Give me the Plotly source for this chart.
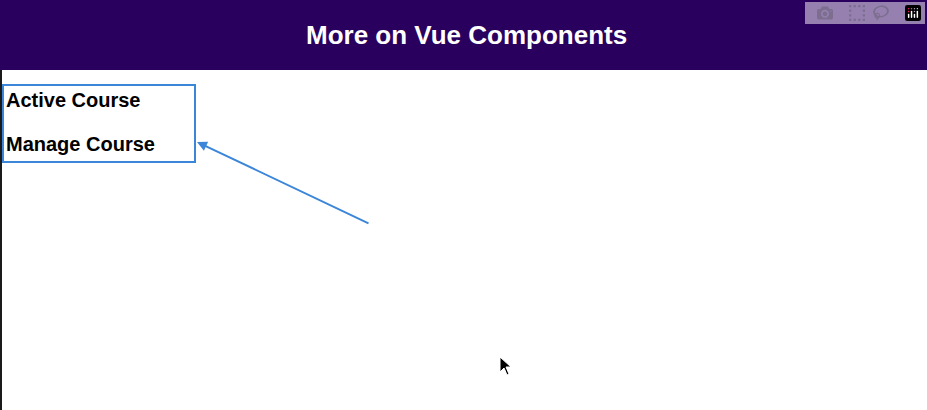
import plotly.graph_objects as go

title = "More on Vue Components"
menu_items = ["Active Course", "Manage Course"]
menu_y = [100, 144]

W, H = 927, 410
fig = go.Figure()
fig.add_trace(go.Scatter(x=[0], y=[0], mode="markers", marker=dict(opacity=0), hoverinfo="skip", showlegend=False))

shapes = [
    dict(type="rect", x0=0, x1=W, y0=0, y1=70, fillcolor="#2a005f", line=dict(width=0), layer="below"),
    dict(type="rect", x0=0, x1=2, y0=70, y1=H, fillcolor="#1a1a1a", line=dict(width=0)),
    dict(type="rect", x0=3, x1=195, y0=85, y1=162, line=dict(color="#3b86d9", width=2)),
]
anns = [dict(x=W/2 + 3, y=35, text=f"<b>{title}</b>", showarrow=False,
             font=dict(family="Liberation Sans, Arial", size=26, color="white"))]
for t, y in zip(menu_items, menu_y):
    anns.append(dict(x=4, y=y, text=f"<b>{t}</b>", showarrow=False, xanchor="left",
                     font=dict(family="Liberation Sans, Arial", size=20, color="black")))
anns.append(dict(x=197, y=142, ax=370, ay=224, axref="x", ayref="y", text="",
                 showarrow=True, arrowhead=2, arrowsize=1, arrowwidth=2, arrowcolor="#3b86d9"))
shapes.append(dict(type="path", path="M 500 357 L 500 372 L 504 368 L 507 375 L 509 374 L 506 367 L 511 367 Z",
                   fillcolor="black", line=dict(color="white", width=1)))

fig.update_layout(width=W, height=H, margin=dict(l=0, r=0, t=0, b=0),
                  paper_bgcolor="white", plot_bgcolor="white",
                  xaxis=dict(range=[0, W], visible=False, fixedrange=True),
                  yaxis=dict(range=[H, 0], visible=False, fixedrange=True),
                  shapes=shapes, annotations=anns)
fig.write_html("out.html", post_script="document.body.style.margin='0';document.body.style.overflow='hidden';")
